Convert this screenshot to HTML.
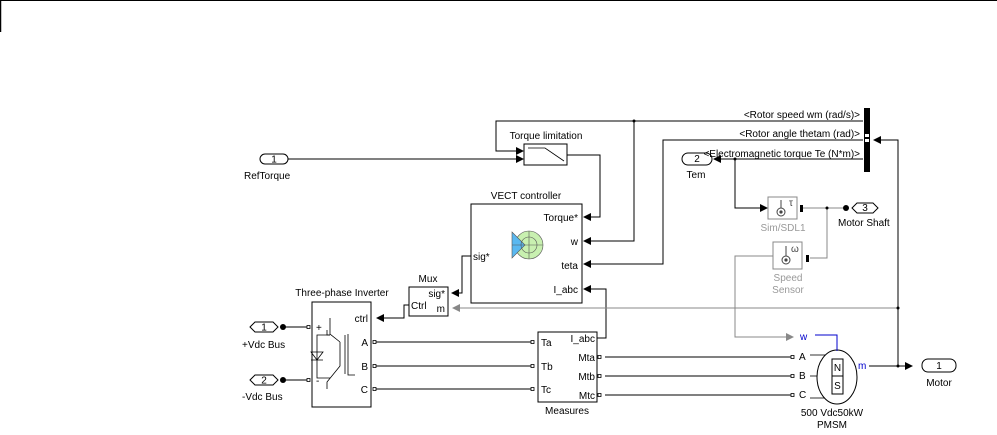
<!DOCTYPE html>
<html><head><meta charset="utf-8"><style>
html,body{margin:0;padding:0;background:#fff;width:997px;height:435px;overflow:hidden}
svg{display:block}
text{font-family:"Liberation Sans",sans-serif;font-size:10px;fill:#000}
</style></head><body>
<svg width="997" height="435" viewBox="0 0 997 435" xmlns="http://www.w3.org/2000/svg">
<defs>
<marker id="a" markerWidth="8" markerHeight="8" refX="7" refY="4" orient="auto" markerUnits="userSpaceOnUse"><path d="M0,0 L8,4 L0,8 z" fill="#000"/></marker>
<marker id="g" markerWidth="8" markerHeight="8" refX="7" refY="4" orient="auto" markerUnits="userSpaceOnUse"><path d="M0,0 L8,4 L0,8 z" fill="#888"/></marker>
</defs>
<line x1="0" y1="0.5" x2="997" y2="0.5" stroke="#000"/>
<line x1="0.5" y1="0" x2="0.5" y2="32" stroke="#000" stroke-width="1.5"/>
<g fill="none" stroke="#000" stroke-width="1">
<rect x="260" y="154" width="28" height="10" rx="5"/>
<line x1="288" y1="159" x2="523" y2="159" marker-end="url(#a)"/>
<rect x="524" y="144" width="43" height="21"/>
<polyline points="528,148 545,148 564,161" stroke-width="0.8"/>
<polyline points="863,121 496,121 496,151 523,151" marker-end="url(#a)"/>
<polyline points="567,155 600,155 600,217 584,217" marker-end="url(#a)"/>
<polyline points="634,121 634,241 584,241" marker-end="url(#a)"/>
<polyline points="863,140 663,140 663,264 584,264" marker-end="url(#a)"/>
<line x1="863" y1="159" x2="714" y2="159" marker-end="url(#a)"/>
<polyline points="735,159 735,208 767,208" marker-end="url(#a)"/>
<rect x="471" y="204" width="111" height="99"/>
<polyline points="471,256 462,256 462,293 452,293" marker-end="url(#a)"/>
<rect x="409" y="287" width="39" height="29"/>
<polyline points="409,305 404,305 404,318 377,318" marker-end="url(#a)"/>
<rect x="312" y="302" width="59" height="105"/>
<polyline points="330,318 330,334 340,342" stroke-width="0.8"/>
<polyline points="340,342 340,366 327,382 327,389" stroke-width="0.8"/>
<line x1="345" y1="335" x2="345" y2="374" stroke-width="0.8"/>
<polyline points="348,334 348,375 355,375" stroke-width="0.8"/>
<polyline points="327,330 327,335 330,335" stroke-width="0.8"/>
<polyline points="330,335 317,335 317,378 330,378" stroke-width="0.8"/>
<path d="M311,352 L323,352 L317,360 z M311,360 L323,360" stroke-width="0.8"/>
<path d="M250,327 l5,-5 h18 l5,5 l-5,5 h-18 z"/>
<path d="M250,380 l5,-5 h18 l5,5 l-5,5 h-18 z"/>
<line x1="284" y1="327" x2="308" y2="327"/>
<line x1="284" y1="380" x2="308" y2="380"/>
<line x1="374" y1="342" x2="532" y2="342"/>
<line x1="374" y1="366" x2="532" y2="366"/>
<line x1="374" y1="389" x2="532" y2="389"/>
<rect x="538" y="332" width="59" height="70"/>
<polyline points="597,338 606,338 606,289 584,289" marker-end="url(#a)"/>
<line x1="605" y1="357" x2="792" y2="357"/>
<line x1="605" y1="376" x2="792" y2="376"/>
<line x1="605" y1="395" x2="792" y2="395"/>
<line x1="810" y1="355" x2="825" y2="355" stroke-width="0.8"/>
<line x1="810" y1="376" x2="817" y2="376" stroke-width="0.8"/>
<line x1="810" y1="398" x2="825" y2="398" stroke-width="0.8"/>
<ellipse cx="837" cy="377" rx="20" ry="27"/>
<rect x="832" y="359" width="11" height="35"/>
<line x1="832" y1="376" x2="843" y2="376"/>
<line x1="869" y1="366" x2="912" y2="366" marker-end="url(#a)"/>
<rect x="922" y="359" width="34" height="13" rx="6"/>
<polyline points="898,366 898,140 874,140" marker-end="url(#a)"/>
<rect x="682" y="153" width="30" height="12" rx="6"/>
<path d="M852,208 l5,-5 h16 l5,5 l-5,5 h-16 z"/>
</g>
<g fill="none" stroke="#888" stroke-width="1">
<line x1="898" y1="308" x2="453" y2="308" marker-end="url(#g)"/>
<polyline points="773,256 735,256 735,337 793,337" marker-end="url(#g)"/>
<polyline points="800,208 845,208"/>
<polyline points="810,258 827,258 827,208"/>
<rect x="768" y="197" width="29" height="22"/>
<rect x="773" y="242" width="29" height="27"/>
<circle cx="781" cy="212" r="4" stroke="#444"/>
<circle cx="786" cy="260" r="4" stroke="#444"/>
<line x1="781" y1="200" x2="781" y2="208" stroke="#444"/>
<line x1="786" y1="246" x2="786" y2="256" stroke="#444"/>
</g>
<circle cx="781" cy="212" r="1.6" fill="#444"/>
<circle cx="786" cy="260" r="1.6" fill="#444"/>
<polyline points="815,335 837,335 837,351" fill="none" stroke="#00c" stroke-width="1"/>
<rect x="864" y="108" width="6" height="64" fill="#000"/>
<rect x="865" y="134" width="4" height="3" fill="#fff"/><rect x="865" y="139" width="4" height="3" fill="#fff"/>
<g fill="#000">
<circle cx="634" cy="121" r="1.5"/><circle cx="735" cy="159" r="1.5"/><circle cx="898" cy="308" r="1.5"/><circle cx="898" cy="366" r="1.5"/><circle cx="827" cy="208" r="1.5"/>
<circle cx="283" cy="327" r="3"/><circle cx="283" cy="380" r="3"/><circle cx="846" cy="208" r="3"/>
<rect x="800" y="205" width="3" height="7"/><rect x="806" y="255" width="3" height="7"/>
</g>
<g fill="#fff" stroke="#000" stroke-width="0.8">
<rect x="307" y="325.5" width="3" height="3"/><rect x="307" y="378.5" width="3" height="3"/>
<rect x="373" y="340.5" width="3" height="3"/><rect x="373" y="364.5" width="3" height="3"/><rect x="373" y="387.5" width="3" height="3"/>
<rect x="531" y="340.5" width="3" height="3"/><rect x="531" y="364.5" width="3" height="3"/><rect x="531" y="387.5" width="3" height="3"/>
<rect x="598" y="355.5" width="3" height="3"/><rect x="598" y="374.5" width="3" height="3"/><rect x="598" y="393.5" width="3" height="3"/>
<rect x="791" y="355.5" width="3" height="3"/><rect x="791" y="374.5" width="3" height="3"/><rect x="791" y="393.5" width="3" height="3"/>
</g>
<circle cx="529" cy="245" r="14" fill="#c8f0b0" stroke="#555" stroke-width="0.6"/>
<path d="M512,232 L525,245 L512,258 z" fill="#5ab8f0" stroke="#555" stroke-width="0.6"/>
<circle cx="529" cy="245" r="8" fill="none" stroke="#555" stroke-width="0.6"/>
<line x1="512" y1="245" x2="543" y2="245" stroke="#555" stroke-width="0.6"/>
<line x1="529" y1="231" x2="529" y2="259" stroke="#555" stroke-width="0.6"/>
<text x="274" y="162.5" font-size="9" text-anchor="middle">1</text>
<text x="244" y="179">RefTorque</text>
<text x="546" y="139" text-anchor="middle" font-size="9">Torque limitation</text>
<text x="526" y="199" text-anchor="middle" font-size="11">VECT controller</text>
<text x="578" y="221" text-anchor="end">Torque*</text>
<text x="578" y="245" text-anchor="end">w</text>
<text x="578" y="269" text-anchor="end">teta</text>
<text x="578" y="293" text-anchor="end">I_abc</text>
<text x="473" y="260">sig*</text>
<text x="428" y="282" text-anchor="middle">Mux</text>
<text x="445" y="297" text-anchor="end">sig*</text>
<text x="411" y="309">Ctrl</text>
<text x="445" y="312" text-anchor="end">m</text>
<text x="342" y="296" text-anchor="middle" font-size="11">Three-phase Inverter</text>
<text x="368" y="322" text-anchor="end">ctrl</text>
<text x="368" y="346" text-anchor="end">A</text>
<text x="368" y="370" text-anchor="end">B</text>
<text x="368" y="393" text-anchor="end">C</text>
<text x="316" y="331">+</text>
<text x="316" y="384">-</text>
<text x="264" y="330.5" font-size="9" text-anchor="middle">1</text>
<text x="264" y="383.5" font-size="9" text-anchor="middle">2</text>
<text x="242" y="348" font-size="9">+Vdc Bus</text>
<text x="242" y="400" font-size="9">-Vdc Bus</text>
<text x="541" y="346">Ta</text>
<text x="541" y="370">Tb</text>
<text x="541" y="393">Tc</text>
<text x="595" y="342" text-anchor="end">I_abc</text>
<text x="595" y="361" text-anchor="end">Mta</text>
<text x="595" y="380" text-anchor="end">Mtb</text>
<text x="595" y="399" text-anchor="end">Mtc</text>
<text x="567" y="414" text-anchor="middle">Measures</text>
<text x="860" y="118" text-anchor="end" font-size="8">&lt;Rotor speed wm (rad/s)&gt;</text>
<text x="860" y="137" text-anchor="end" font-size="8">&lt;Rotor angle thetam (rad)&gt;</text>
<text x="860" y="157" text-anchor="end" font-size="8">&lt;Electromagnetic torque Te (N*m)&gt;</text>
<text x="697" y="162" text-anchor="middle" font-size="8">2</text>
<text x="696" y="178" text-anchor="middle" font-size="9">Tem</text>
<text x="789" y="206" font-size="8" style="fill:#444">τ</text>
<text x="791" y="252" font-size="8" style="fill:#444">ω</text>
<text x="783" y="231" text-anchor="middle" font-size="9" style="fill:#999">Sim/SDL1</text>
<text x="788" y="281" text-anchor="middle" font-size="9" style="fill:#999">Speed</text>
<text x="788" y="293" text-anchor="middle" font-size="9" style="fill:#999">Sensor</text>
<text x="865" y="211" text-anchor="middle" font-size="8">3</text>
<text x="838" y="226" font-size="9">Motor Shaft</text>
<text x="800" y="340" font-size="9" style="fill:#00c">w</text>
<text x="799" y="360" font-size="9">A</text>
<text x="799" y="379" font-size="9">B</text>
<text x="799" y="398" font-size="9">C</text>
<text x="837.5" y="371" font-size="8" text-anchor="middle">N</text>
<text x="837.5" y="389" font-size="8" text-anchor="middle">S</text>
<text x="858" y="369" font-size="9" style="fill:#00c">m</text>
<text x="939" y="369" text-anchor="middle">1</text>
<text x="939" y="386" text-anchor="middle">Motor</text>
<text x="832" y="416" text-anchor="middle" font-size="9">500 Vdc50kW</text>
<text x="832" y="428" text-anchor="middle" font-size="9">PMSM</text>
</svg>
</body></html>
